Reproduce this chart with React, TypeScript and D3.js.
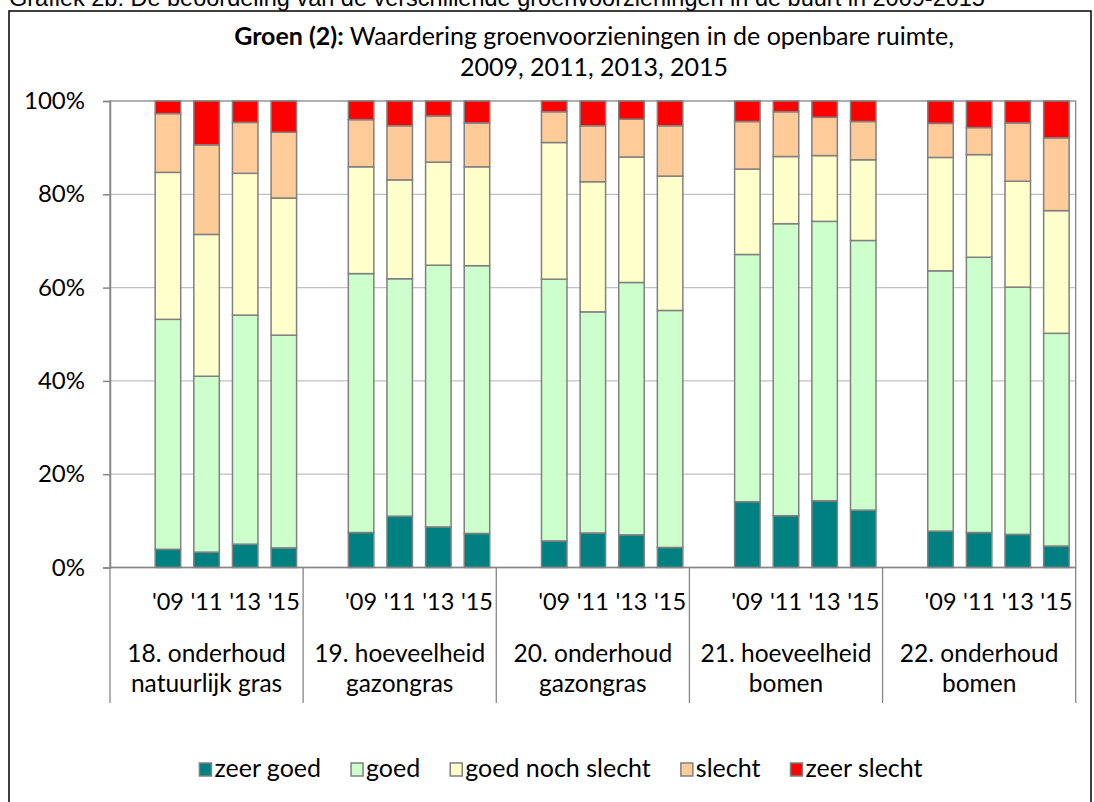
import * as d3 from "d3";
import { useEffect, useRef } from "react";

const groupLabels = [
    ["18. onderhoud", "natuurlijk gras"],
    ["19. hoeveelheid", "gazongras"],
    ["20. onderhoud", "gazongras"],
    ["21. hoeveelheid", "bomen"],
    ["22. onderhoud", "bomen"],
];
const years = ["'09", "'11", "'13", "'15"];
const seriesNames = ["zeer goed", "goed", "goed noch slecht", "slecht", "zeer slecht"];
const seriesColors = ["#008080", "#CCFFCC", "#FFFFCC", "#FFCC99", "#FF0000"];
const yTicks = [0, 20, 40, 60, 80, 100];

// one value per bar, groups in order, years '09 '11 '13 '15 inside each group
const zeerGoed = [3.9, 3.3, 5.0, 4.2, 7.5, 11.0, 8.7, 7.3, 5.7, 7.4, 7.0, 4.3, 14.1, 11.1, 14.3, 12.3, 7.8, 7.5, 7.1, 4.6];
const goed = [49.3, 37.7, 49.1, 45.6, 55.5, 50.9, 56.1, 57.4, 56.1, 47.4, 54.1, 50.8, 53.0, 62.6, 59.9, 57.8, 55.8, 59.0, 53.0, 45.6];
const goedNochSlecht = [31.5, 30.4, 30.4, 29.4, 22.9, 21.2, 22.1, 21.2, 29.3, 27.9, 26.9, 28.8, 18.3, 14.4, 14.1, 17.3, 24.3, 22.0, 22.7, 26.3];
const slecht = [12.6, 19.2, 10.9, 14.1, 10.1, 11.6, 9.9, 9.4, 6.6, 12.0, 8.1, 10.8, 10.2, 9.6, 8.2, 8.2, 7.3, 5.8, 12.5, 15.6];
const zeerSlecht = [2.7, 9.4, 4.6, 6.7, 4.0, 5.3, 3.2, 4.7, 2.3, 5.3, 3.9, 5.3, 4.4, 2.3, 3.5, 4.4, 4.8, 5.7, 4.7, 7.9];

const FONT = "Lato, 'Noto Sans', sans-serif";

export default function App() {
    const ref = useRef<SVGSVGElement>(null);

    useEffect(() => {
        const svg = d3.select(ref.current);
        svg.selectAll("*").remove();

        const left = 110,
            right = 1075.7,
            top = 101,
            bottom = 567.5;

        // categories: a blank slot before the four years of each group
        const slots: string[] = [];
        groupLabels.forEach((_, g) => {
            slots.push(`g${g}-blank`);
            years.forEach((y) => slots.push(`g${g}-${y}`));
        });

        const rows = [];
        groupLabels.forEach((_, g) => {
            years.forEach((y, i) => {
                const k = g * years.length + i;
                rows.push({
                    key: `g${g}-${y}`,
                    year: y,
                    "zeer goed": zeerGoed[k],
                    goed: goed[k],
                    "goed noch slecht": goedNochSlecht[k],
                    slecht: slecht[k],
                    "zeer slecht": zeerSlecht[k],
                });
            });
        });

        const x = d3.scaleBand().domain(slots).range([left, right]).paddingInner(0.34).paddingOuter(0.17);
        const y = d3.scaleLinear().domain([0, 100]).range([bottom, top]);
        const color = d3.scaleOrdinal<string, string>().domain(seriesNames).range(seriesColors);

        // outer frame and page caption
        svg.append("rect")
            .attr("x", 9).attr("y", 11).attr("width", 1082).attr("height", 800)
            .attr("fill", "#fff").attr("stroke", "#000").attr("stroke-width", 1.5);

        svg.append("text")
            .attr("x", 9).attr("y", 6)
            .attr("font-family", "'Liberation Sans', Arial, sans-serif")
            .attr("font-size", 23.5)
            .text("Grafiek 2b: De beoordeling van de verschillende groenvoorzieningen in de buurt in 2009-2015");

        // title
        const title = svg.append("text")
            .attr("x", 594).attr("y", 45)
            .attr("text-anchor", "middle")
            .attr("font-family", FONT).attr("font-size", 25);
        title.append("tspan").attr("font-weight", "bold").text("Groen (2):");
        title.append("tspan").text(" Waardering groenvoorzieningen in de openbare ruimte,");
        svg.append("text")
            .attr("x", 594).attr("y", 76)
            .attr("text-anchor", "middle")
            .attr("font-family", FONT).attr("font-size", 25)
            .text("2009, 2011, 2013, 2015");

        // gridlines
        svg.append("g")
            .selectAll("line")
            .data(yTicks.filter((t) => t > 0 && t < 100))
            .join("line")
            .attr("x1", left).attr("x2", right)
            .attr("y1", (d) => y(d)).attr("y2", (d) => y(d))
            .attr("stroke", "#c0c0c0").attr("stroke-width", 1.3);

        // plot area border
        svg.append("rect")
            .attr("x", left).attr("y", top)
            .attr("width", right - left).attr("height", bottom - top)
            .attr("fill", "none").attr("stroke", "#868686").attr("stroke-width", 1.3);

        // stacked bars
        const stacked = d3.stack().keys(seriesNames)(rows as any);
        svg.append("g")
            .selectAll("g")
            .data(stacked)
            .join("g")
            .attr("fill", (d) => color(d.key))
            .selectAll("rect")
            .data((d) => d)
            .join("rect")
            .attr("x", (d: any) => x(d.data.key))
            .attr("width", x.bandwidth())
            .attr("y", (d) => y(d[1]))
            .attr("height", (d) => y(d[0]) - y(d[1]))
            .attr("stroke", "#808080")
            .attr("stroke-width", 1.5);

        // y axis
        const yAxis = d3.axisLeft(y).tickValues(yTicks).tickSize(7).tickPadding(18).tickFormat((d) => `${d}%`);
        const ya = svg.append("g").attr("transform", `translate(${left},0)`).call(yAxis);
        ya.select(".domain").attr("stroke", "#868686").attr("stroke-width", 1.5);
        ya.selectAll(".tick line").attr("stroke", "#868686").attr("stroke-width", 1.5);
        ya.selectAll(".tick text").attr("font-family", FONT).attr("font-size", 24).attr("fill", "#000");

        // x axis line
        svg.append("line")
            .attr("x1", left).attr("x2", right)
            .attr("y1", bottom).attr("y2", bottom)
            .attr("stroke", "#868686").attr("stroke-width", 1.5);

        // year labels
        svg.append("g")
            .selectAll("text")
            .data(rows)
            .join("text")
            .attr("x", (d: any) => x(d.key) + x.bandwidth() / 2)
            .attr("y", 610)
            .attr("text-anchor", "middle")
            .attr("font-family", FONT).attr("font-size", 23.5)
            .text((d: any) => d.year);

        // group separators and labels
        const step = x.step();
        const edge = (g: number) => x(`g${g}-blank`) - step * x.paddingOuter();
        const seps = d3.range(groupLabels.length + 1).map((g) => (g < groupLabels.length ? edge(g) : right));
        svg.append("g")
            .selectAll("line")
            .data(seps)
            .join("line")
            .attr("x1", (d) => d).attr("x2", (d) => d)
            .attr("y1", bottom).attr("y2", 703)
            .attr("stroke", "#868686").attr("stroke-width", 1.3);

        const gl = svg.append("g")
            .selectAll("text")
            .data(groupLabels)
            .join("text")
            .attr("text-anchor", "middle")
            .attr("font-family", FONT).attr("font-size", 24.5);
        gl.selectAll("tspan")
            .data((d, g) => d.map((line) => ({ line, g })))
            .join("tspan")
            .attr("x", (d) => edge(d.g) + step * 2.5)
            .attr("y", (d, i) => 662 + i * 30)
            .text((d) => d.line);

        // legend
        const legend = svg.append("g").attr("font-family", FONT).attr("font-size", 25);
        const items = legend.selectAll("g").data(seriesNames).join("g");
        items.append("rect")
            .attr("width", 12).attr("height", 13)
            .attr("y", -14)
            .attr("fill", (d) => color(d))
            .attr("stroke", "#808080").attr("stroke-width", 1.5);
        items.append("text").attr("x", 15).text((d) => d);
        let cx = 0;
        items.each(function () {
            const w = (this as SVGGElement).getBBox().width;
            d3.select(this).attr("data-x", cx);
            cx += w + 30;
        });
        const total = cx - 30;
        const startX = 561 - total / 2;
        items.attr("transform", function () {
            return `translate(${startX + +d3.select(this).attr("data-x")},777)`;
        });
    }, []);

    return (
        <svg
            ref={ref}
            width={1094}
            height={802}
            style={{ position: "absolute", left: 0, top: 0, background: "#fff" }}
        ></svg>
    );
}
